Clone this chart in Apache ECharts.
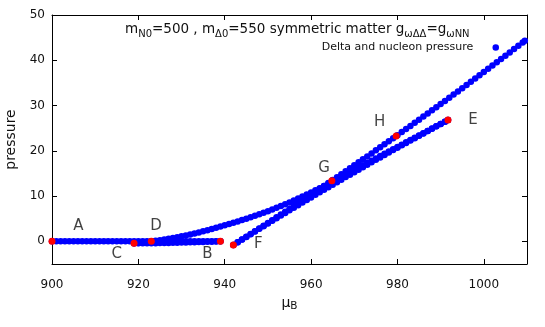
<!DOCTYPE html>
<html>
<head>
<meta charset="utf-8">
<script src="https://cdn.jsdelivr.net/npm/echarts@6/dist/echarts.min.js"></script>
<style>
html,body{margin:0;padding:0;background:#fff;}
#chart{width:545px;height:327px;}
</style>
</head>
<body>
<div id="chart"></div>
<script>
// ---- data: [mu_B, pressure] ----
const vacuumBranch = [[900,0],[901,0],[902,0],[903,0],[904,0],[905,0],[906,0],[907,0],[908,0],[909,0],[910,0],[911,0],[912,0],[913,0],[914,0],[915,0],[916,0],[917,0],[918,0],[919,0],[920,0],[921,0],[922,0],[923,0],[924,0],[925,0],[926,0],[927,0],[928,0],[929,0],[930,0],[931,0],[932,0],[933,0],[934,0],[935,0],[936,0],[937,0],[938,0],[939,0]];
const backBranch = [[939,0],[938,-0.03],[937,-0.06],[936,-0.09],[935,-0.12],[934,-0.15],[933,-0.18],[932,-0.21],[931,-0.24],[930,-0.27],[929,-0.3],[928,-0.32],[927,-0.34],[926,-0.36],[925,-0.38],[924,-0.4],[923,-0.41],[922,-0.42],[921,-0.43],[920,-0.44],[919,-0.44]];
const lowerBranch = [[919,-0.44],[920,-0.38],[921,-0.28],[922,-0.15],[923,0],[924,0.13],[925,0.27],[926,0.42],[927,0.58],[928,0.75],[929,0.93],[930,1.12],[931,1.32],[932,1.53],[933,1.75],[934,1.98],[935,2.22],[936,2.47],[937,2.73],[938,3.0],[939,3.27],[940,3.55],[941,3.83],[942,4.12],[943,4.41],[944,4.71],[945,5.01],[946,5.32],[947,5.64],[948,5.97],[949,6.31],[950,6.66],[951,7.02],[952,7.4],[953,7.79],[954,8.19],[955,8.6],[956,9.02],[957,9.45],[958,9.89],[959,10.34],[960,10.8],[961,11.27],[962,11.75],[963,12.24],[964,12.74],[965,13.25],[966,13.76],[967,14.27],[968,14.77],[969,15.28],[970,15.79],[971,16.29],[972,16.8],[973,17.31],[974,17.81],[975,18.32],[976,18.83],[977,19.34],[978,19.84],[979,20.35],[980,20.86],[981,21.36],[982,21.87],[983,22.38],[984,22.88],[985,23.39],[986,23.9],[987,24.4],[988,24.91],[989,25.42],[990,25.92],[991,26.43],[991.7,26.8]];
const unstableBranch = [[991.7,26.78],[991,26.43],[990,25.92],[989,25.4],[988,24.89],[987,24.37],[986,23.85],[985,23.33],[984,22.8],[983,22.28],[982,21.75],[981,21.22],[980,20.69],[979,20.16],[978,19.63],[977,19.09],[976,18.55],[975,18.01],[974,17.47],[973,16.93],[972,16.39],[971,15.84],[970,15.29],[969,14.74],[968,14.19],[967,13.63],[966,13.08],[965,12.52],[964,11.96],[963,11.4],[962,10.84],[961,10.27],[960,9.71],[959,9.14],[958,8.57],[957,8.0],[956,7.42],[955,6.85],[954,6.27],[953,5.69],[952,5.11],[951,4.53],[950,3.94],[949,3.36],[948,2.77],[947,2.18],[946,1.59],[945,0.99],[944,0.4],[943,-0.2],[942,-0.8]];
const upperBranch = [[942,-0.8],[943,-0.2],[944,0.4],[945,1.01],[946,1.62],[947,2.23],[948,2.84],[949,3.45],[950,4.07],[951,4.68],[952,5.3],[953,5.92],[954,6.55],[955,7.17],[956,7.8],[957,8.43],[958,9.06],[959,9.69],[960,10.33],[961,10.97],[962,11.6],[963,12.25],[964,12.89],[965,13.53],[966,14.18],[967,14.83],[968,15.48],[969,16.14],[970,16.79],[971,17.45],[972,18.11],[973,18.77],[974,19.43],[975,20.1],[976,20.77],[977,21.44],[978,22.11],[979,22.78],[980,23.46],[981,24.14],[982,24.82],[983,25.5],[984,26.18],[985,26.87],[986,27.56],[987,28.25],[988,28.94],[989,29.63],[990,30.33],[991,31.03],[992,31.73],[993,32.43],[994,33.13],[995,33.84],[996,34.55],[997,35.26],[998,35.97],[999,36.68],[1000,37.4],[1001,38.12],[1002,38.84],[1003,39.56],[1004,40.28],[1005,41.01],[1006,41.74],[1007,42.47],[1008,43.2],[1009,43.93],[1009.5,44.3]];

const specialMu = [900, 919, 923, 939, 942, 964.8, 979.7, 991.7];
const specialP  = [0, -0.44, 0, 0, -0.8, 13.4, 23.3, 26.8];

const letterText = ['A', 'D', 'C', 'B', 'F', 'G', 'H', 'E'];
const letterMu   = [906.1, 924.1, 915, 936, 947.8, 963, 975.9, 997.5];
const letterP    = [3.3, 3.3, -2.9, -2.9, -0.7, 16.2, 26.4, 26.7];

const xTickValues = [900, 920, 940, 960, 980, 1000];
const yTickValues = [0, 10, 20, 30, 40, 50];
const legendName = 'Delta and nucleon pressure';

// ---- chart ----
const FONT = 'DejaVu Sans';
const chart = echarts.init(document.getElementById('chart'), null, {renderer: 'canvas'});

function blueSeries(data) {
  return {
    name: legendName, type: 'scatter', data: data,
    symbol: 'circle', symbolSize: 6.5,
    itemStyle: {color: '#0000ff', opacity: 1}, silent: true, clip: false, z: 2
  };
}

const axisCommon = {
  type: 'value',
  axisLine: {show: true, onZero: false, lineStyle: {color: '#000', width: 1}},
  axisTick: {show: true, inside: true, length: 5, lineStyle: {color: '#000'}},
  splitLine: {show: false}
};

const option = {
  animation: false,
  backgroundColor: '#fff',
  grid: {left: 52, right: 18, top: 15, bottom: 63, containLabel: false, outerBoundsMode: 'none'},
  title: {
    text: '{n|m}{s|N0}{n|=500 , m}{s|Δ0}{n|=550 symmetric matter g}{s|ωΔΔ}{n|=g}{s|ωNN}',
    left: 120, top: 14,
    textStyle: {
      fontFamily: FONT, fontWeight: 'normal',
      rich: {
        n: {fontFamily: FONT, fontWeight: 'normal', fontSize: 13.5, color: '#111', lineHeight: 20, verticalAlign: 'middle'},
        s: {fontFamily: FONT, fontWeight: 'normal', fontSize: 10, color: '#111', lineHeight: 10, verticalAlign: 'bottom'}
      }
    }
  },
  legend: {
    data: [legendName], right: 41, top: 37, align: 'right',
    icon: 'circle', itemWidth: 35, itemHeight: 6.5,
    textStyle: {fontFamily: FONT, fontSize: 11, color: '#111'},
    selectedMode: false
  },
  xAxis: [
    Object.assign({}, axisCommon, {
      min: 900, max: 1010, position: 'bottom',
      name: '{n|μ}{s|B}', nameLocation: 'middle', nameGap: 27,
      nameTextStyle: {
        rich: {
          n: {fontFamily: FONT, fontSize: 14, color: '#111', lineHeight: 18, verticalAlign: 'middle'},
          s: {fontFamily: FONT, fontSize: 10.5, color: '#111', lineHeight: 10, verticalAlign: 'bottom'}
        }
      },
      axisTick: Object.assign({}, axisCommon.axisTick, {customValues: xTickValues}),
      axisLabel: {customValues: xTickValues, formatter: v => String(v), fontFamily: FONT, fontSize: 12, color: '#111', margin: 15}
    }),
    Object.assign({}, axisCommon, {
      min: 900, max: 1010, position: 'top',
      axisTick: Object.assign({}, axisCommon.axisTick, {customValues: xTickValues}),
      axisLabel: {show: false}
    })
  ],
  yAxis: [
    Object.assign({}, axisCommon, {
      min: -5, max: 50, position: 'left',
      name: 'pressure', nameLocation: 'middle', nameGap: 33, nameRotate: 90,
      nameTextStyle: {fontFamily: FONT, fontSize: 14, color: '#111'},
      axisTick: Object.assign({}, axisCommon.axisTick, {customValues: yTickValues}),
      axisLabel: {customValues: yTickValues, formatter: v => String(v), fontFamily: FONT, fontSize: 12, color: '#111', margin: 7}
    }),
    Object.assign({}, axisCommon, {
      min: -5, max: 50, position: 'right',
      axisTick: Object.assign({}, axisCommon.axisTick, {customValues: yTickValues}),
      axisLabel: {show: false}
    })
  ],
  series: [
    blueSeries(vacuumBranch),
    blueSeries(backBranch),
    blueSeries(lowerBranch),
    blueSeries(unstableBranch),
    blueSeries(upperBranch),
    {
      name: 'special', type: 'scatter', symbol: 'circle', symbolSize: 7,
      data: specialMu.map((m, i) => [m, specialP[i]]),
      itemStyle: {color: '#ff0000', opacity: 1}, silent: true, clip: false, z: 3
    },
    {
      name: 'letters', type: 'scatter', symbol: 'circle', symbolSize: 1,
      data: letterMu.map((m, i) => ({value: [m, letterP[i]], name: letterText[i]})),
      itemStyle: {color: 'rgba(0,0,0,0)'},
      label: {show: true, position: 'inside', formatter: p => p.name,
              fontFamily: FONT, fontSize: 15, color: '#111'},
      silent: true, clip: false, z: 4
    }
  ]
};
chart.setOption(option);
</script>
</body>
</html>
